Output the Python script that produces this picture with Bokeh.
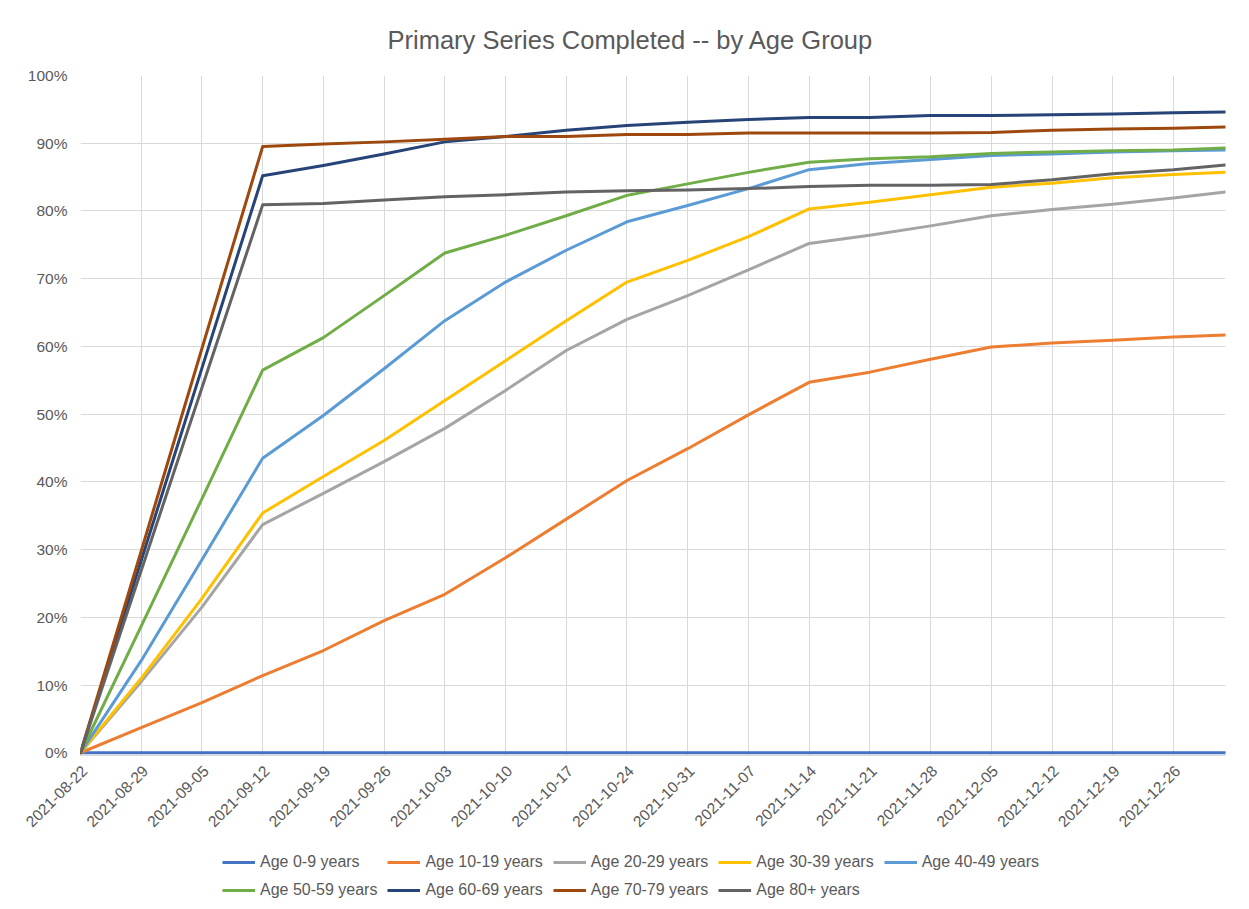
import datetime as dt
from math import pi
from bokeh.plotting import figure
from bokeh.layouts import column
from bokeh.models import (ColumnDataSource, Range1d, FixedTicker, DatetimeTickFormatter,
                          NumeralTickFormatter, Legend, LegendItem)
from bokeh.embed import file_html
from bokeh.resources import INLINE

# ---------------- data (percent of age group with primary series completed) -------------
dates = ["2021-08-22", "2021-08-29", "2021-09-05", "2021-09-12", "2021-09-19", "2021-09-26",
         "2021-10-03", "2021-10-10", "2021-10-17", "2021-10-24", "2021-10-31", "2021-11-07",
         "2021-11-14", "2021-11-21", "2021-11-28", "2021-12-05", "2021-12-12", "2021-12-19",
         "2021-12-26", "2022-01-01"]

age_0_9 = [0, 0, 0, 0, 0, 0, 0, 0, 0, 0, 0, 0, 0, 0, 0, 0, 0, 0, 0, 0]
age_10_19 = [0, 3.7, 7.4, 11.4, 15.1, 19.5, 23.4, 28.8, 34.5, 40.2, 44.9, 49.9, 54.7, 56.2,
             58.1, 59.9, 60.5, 60.9, 61.4, 61.7]
age_20_29 = [0, 10.5, 21.5, 33.7, 38.3, 43.0, 47.9, 53.5, 59.4, 64.0, 67.5, 71.3, 75.2, 76.4,
             77.8, 79.3, 80.2, 81.0, 81.9, 82.8]
age_30_39 = [0, 11.0, 22.8, 35.4, 40.8, 46.1, 52.0, 57.9, 63.8, 69.5, 72.7, 76.2, 80.3, 81.3,
             82.4, 83.5, 84.1, 84.9, 85.4, 85.7]
age_40_49 = [0, 13.6, 28.5, 43.5, 49.8, 56.7, 63.8, 69.5, 74.2, 78.4, 80.8, 83.3, 86.1, 87.0,
             87.6, 88.2, 88.4, 88.7, 88.9, 89.0]
age_50_59 = [0, 18.7, 37.5, 56.5, 61.3, 67.5, 73.8, 76.4, 79.3, 82.3, 84.0, 85.7, 87.2, 87.7,
             88.0, 88.5, 88.7, 88.9, 89.0, 89.3]
age_60_69 = [0, 28.4, 56.8, 85.2, 86.7, 88.4, 90.2, 91.0, 91.9, 92.6, 93.1, 93.5, 93.8, 93.8,
             94.1, 94.1, 94.2, 94.3, 94.5, 94.6]
age_70_79 = [0, 29.8, 59.7, 89.5, 89.9, 90.2, 90.6, 91.0, 91.0, 91.3, 91.3, 91.5, 91.5, 91.5,
             91.5, 91.6, 91.9, 92.1, 92.2, 92.4]
age_80_plus = [0, 26.9, 53.9, 80.9, 81.1, 81.6, 82.1, 82.4, 82.8, 83.0, 83.1, 83.3, 83.6, 83.8,
               83.8, 83.9, 84.6, 85.5, 86.1, 86.8]

series_names = ["Age 0-9 years", "Age 10-19 years", "Age 20-29 years", "Age 30-39 years",
                "Age 40-49 years", "Age 50-59 years", "Age 60-69 years", "Age 70-79 years",
                "Age 80+ years"]
series_values = [age_0_9, age_10_19, age_20_29, age_30_39, age_40_49, age_50_59,
                 age_60_69, age_70_79, age_80_plus]
colors = ["#4472C4", "#ED7D31", "#A5A5A5", "#FFC000", "#5B9BD5", "#70AD47",
          "#264478", "#9E480E", "#636363"]

tick_dates = ["2021-08-22", "2021-08-29", "2021-09-05", "2021-09-12", "2021-09-19",
              "2021-09-26", "2021-10-03", "2021-10-10", "2021-10-17", "2021-10-24",
              "2021-10-31", "2021-11-07", "2021-11-14", "2021-11-21", "2021-11-28",
              "2021-12-05", "2021-12-12", "2021-12-19", "2021-12-26"]
y_ticks = [0, 0.1, 0.2, 0.3, 0.4, 0.5, 0.6, 0.7, 0.8, 0.9, 1.0]
title_text = "Primary Series Completed -- by Age Group"

# ---------------- build ----------------
X = [dt.datetime.fromisoformat(s) for s in dates]
data = {"date": X}
for i, vals in enumerate(series_values):
    data[f"s{i}"] = [v / 100.0 for v in vals]
source = ColumnDataSource(data)

FONT = "Liberation Sans"
TXT = "#595959"
GRID = "#d9d9d9"

p = figure(width=1233, height=838, x_axis_type="datetime", output_backend="svg",
           toolbar_location=None,
           x_range=Range1d(X[0], X[-1]), y_range=Range1d(-0.004, 1.0),
           min_border_left=80, min_border_right=8, min_border_top=75, min_border_bottom=83)
p.outline_line_color = None
p.background_fill_color = "white"
p.border_fill_color = "white"

p.title.text = title_text
p.title.align = "left"
p.title.offset = 307
p.title.standoff = 43
p.title.text_font = FONT
p.title.text_font_size = "25.5px"
p.title.text_font_style = "normal"
p.title.text_color = TXT

DAY_MS = 86400000.0
tick_ms = [dt.datetime.fromisoformat(s).replace(tzinfo=dt.timezone.utc).timestamp() * 1000
           for s in tick_dates]
# labels sit slightly right of their gridline, as in the original (same calendar day)
label_ticker = FixedTicker(ticks=[t + 0.5 * DAY_MS for t in tick_ms])
grid_ticker = FixedTicker(ticks=tick_ms)
yticker = FixedTicker(ticks=y_ticks)
p.xaxis.ticker = label_ticker
p.yaxis.ticker = yticker
p.xgrid.ticker = grid_ticker
p.ygrid.ticker = yticker
fmt = "%Y-%m-%d"
p.xaxis.formatter = DatetimeTickFormatter(microseconds=fmt, milliseconds=fmt, seconds=fmt,
                                          minsec=fmt, minutes=fmt, hourmin=fmt, hours=fmt,
                                          days=fmt, months=fmt, years=fmt)
p.yaxis.formatter = NumeralTickFormatter(format="0%")

for ax in (p.xaxis, p.yaxis):
    ax.major_tick_line_color = None
    ax.minor_tick_line_color = None
    ax.major_tick_out = 0
    ax.major_tick_in = 0
    ax.minor_tick_out = 0
    ax.minor_tick_in = 0
    ax.major_label_text_font = FONT
    ax.major_label_text_font_size = "15.5px"
    ax.major_label_text_color = TXT
p.yaxis.axis_line_color = None
p.xaxis.axis_line_color = GRID
p.xaxis.major_label_orientation = pi / 4
p.xaxis.major_label_standoff = 13
p.yaxis.major_label_standoff = 13

p.xgrid.grid_line_color = GRID
p.ygrid.grid_line_color = GRID
p.xgrid.grid_line_width = 1
p.ygrid.grid_line_width = 1

for i, col in enumerate(colors):
    p.line("date", f"s{i}", source=source, line_color=col, line_width=3,
           line_join="round", line_cap="round")

# ---- legend strip below the chart (its own canvas so nothing is clipped) ----
lg = figure(width=1233, height=67, output_backend="svg", toolbar_location=None,
            x_axis_location=None, y_axis_location=None, title=None,
            x_range=Range1d(0, 1), y_range=Range1d(10, 11),
            min_border=0, min_border_left=0, min_border_right=0,
            min_border_top=0, min_border_bottom=0)
lg.outline_line_color = None
lg.grid.visible = False
lg.background_fill_color = "white"
lg.border_fill_color = "white"
items = []
for i, (name, col) in enumerate(zip(series_names, colors)):
    r = lg.line("date", f"s{i}", source=source, line_color=col, line_width=3)
    items.append(LegendItem(label=name, renderers=[r]))

legend = Legend(items=items, location=(142, 6), orientation="horizontal", ncols=5,
                glyph_width=33, glyph_height=18, label_height=18, label_standoff=5,
                spacing=10, padding=0, margin=0, border_line_color=None,
                background_fill_alpha=0, label_text_font=FONT,
                label_text_font_size="16px", label_text_color=TXT)
lg.add_layout(legend, "center")

layout = column(p, lg, spacing=0)
open("out.html", "w").write(file_html(layout, INLINE))
